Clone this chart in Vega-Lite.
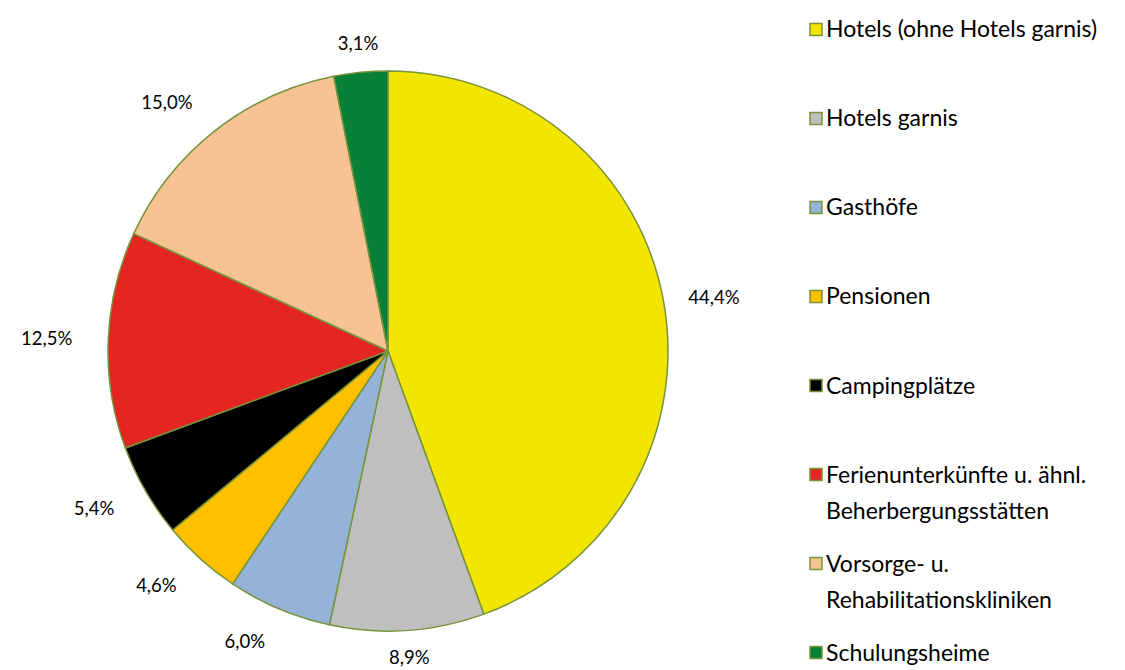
{
  "$schema": "https://vega.github.io/schema/vega-lite/v6.json",
  "padding": 0,
  "autosize": {"type": "pad"},
  "config": {
    "view": {"stroke": null},
    "locale": {"number": {"decimal": ",", "thousands": ".", "grouping": [3], "currency": ["", " €"]}}
  },
  "data": {
    "values": [
      {"order": 1, "Kategorie": "Hotels (ohne Hotels garnis)", "Anteil": 0.444},
      {"order": 2, "Kategorie": "Hotels garnis", "Anteil": 0.089},
      {"order": 3, "Kategorie": "Gasthöfe", "Anteil": 0.060},
      {"order": 4, "Kategorie": "Pensionen", "Anteil": 0.046},
      {"order": 5, "Kategorie": "Campingplätze", "Anteil": 0.054},
      {"order": 6, "Kategorie": "Ferienunterkünfte u. ähnl.\nBeherbergungsstätten", "Anteil": 0.125},
      {"order": 7, "Kategorie": "Vorsorge- u.\nRehabilitationskliniken", "Anteil": 0.150},
      {"order": 8, "Kategorie": "Schulungsheime", "Anteil": 0.031}
    ]
  },
  "spacing": 30,
  "hconcat": [
    {
      "width": 776,
      "height": 702,
      "layer": [
        {
          "mark": {"type": "arc", "outerRadius": 280, "stroke": "#77933C", "strokeWidth": 1.5},
          "encoding": {
            "theta": {"field": "Anteil", "type": "quantitative", "stack": true},
            "order": {"field": "order", "type": "quantitative"},
            "color": {
              "field": "Kategorie", "type": "nominal",
              "scale": {
                "domain": ["Hotels (ohne Hotels garnis)", "Hotels garnis", "Gasthöfe", "Pensionen", "Campingplätze", "Ferienunterkünfte u. ähnl.\nBeherbergungsstätten", "Vorsorge- u.\nRehabilitationskliniken", "Schulungsheime"],
                "range": ["#F2E600", "#BFBFBF", "#95B3D7", "#FFC000", "#000000", "#E42522", "#F8C393", "#088038"]
              },
              "legend": null
            }
          }
        },
        {
          "mark": {"type": "text", "radius": 305, "align": "left", "fontSize": 18.5, "font": "Lato", "color": "#000000"},
          "encoding": {
            "theta": {"field": "Anteil", "type": "quantitative", "stack": true},
            "order": {"field": "order", "type": "quantitative"},
            "text": {"field": "Anteil", "type": "quantitative", "format": ".1%"},
            "opacity": {"condition": {"test": "datum.order === 1", "value": 1}, "value": 0}
          }
        },
        {
          "mark": {"type": "text", "radius": 308, "align": "center", "fontSize": 18.5, "font": "Lato", "color": "#000000"},
          "encoding": {
            "theta": {"field": "Anteil", "type": "quantitative", "stack": true},
            "order": {"field": "order", "type": "quantitative"},
            "text": {"field": "Anteil", "type": "quantitative", "format": ".1%"},
            "opacity": {"condition": {"test": "datum.order === 2 || datum.order === 8", "value": 1}, "value": 0}
          }
        },
        {
          "mark": {"type": "text", "radius": 316, "align": "right", "fontSize": 18.5, "font": "Lato", "color": "#000000"},
          "encoding": {
            "theta": {"field": "Anteil", "type": "quantitative", "stack": true},
            "order": {"field": "order", "type": "quantitative"},
            "text": {"field": "Anteil", "type": "quantitative", "format": ".1%"},
            "opacity": {"condition": {"test": "datum.order >= 3 && datum.order <= 7", "value": 1}, "value": 0}
          }
        }
      ]
    },
    {
      "width": 20,
      "height": 682,
      "layer": [
        {
          "mark": {"type": "square", "size": 144, "stroke": "#77933C", "strokeWidth": 1.5, "opacity": 1, "filled": true},
          "encoding": {
            "y": {
              "field": "Kategorie", "type": "nominal",
              "sort": ["Hotels (ohne Hotels garnis)", "Hotels garnis", "Gasthöfe", "Pensionen", "Campingplätze", "Ferienunterkünfte u. ähnl.\nBeherbergungsstätten", "Vorsorge- u.\nRehabilitationskliniken", "Schulungsheime"],
              "scale": {"type": "point", "padding": 0.33},
              "axis": null
            },
            "color": {"field": "Kategorie", "type": "nominal", "legend": null}
          }
        },
        {
          "mark": {"type": "text", "align": "left", "baseline": "alphabetic", "dx": 10, "dy": 8, "lineBreak": "\n", "fontSize": 23, "font": "Lato", "lineHeight": 36, "color": "#000000"},
          "encoding": {
            "y": {
              "field": "Kategorie", "type": "nominal",
              "sort": ["Hotels (ohne Hotels garnis)", "Hotels garnis", "Gasthöfe", "Pensionen", "Campingplätze", "Ferienunterkünfte u. ähnl.\nBeherbergungsstätten", "Vorsorge- u.\nRehabilitationskliniken", "Schulungsheime"],
              "scale": {"type": "point", "padding": 0.33},
              "axis": null
            },
            "text": {"field": "Kategorie", "type": "nominal"}
          }
        }
      ]
    }
  ]
}
